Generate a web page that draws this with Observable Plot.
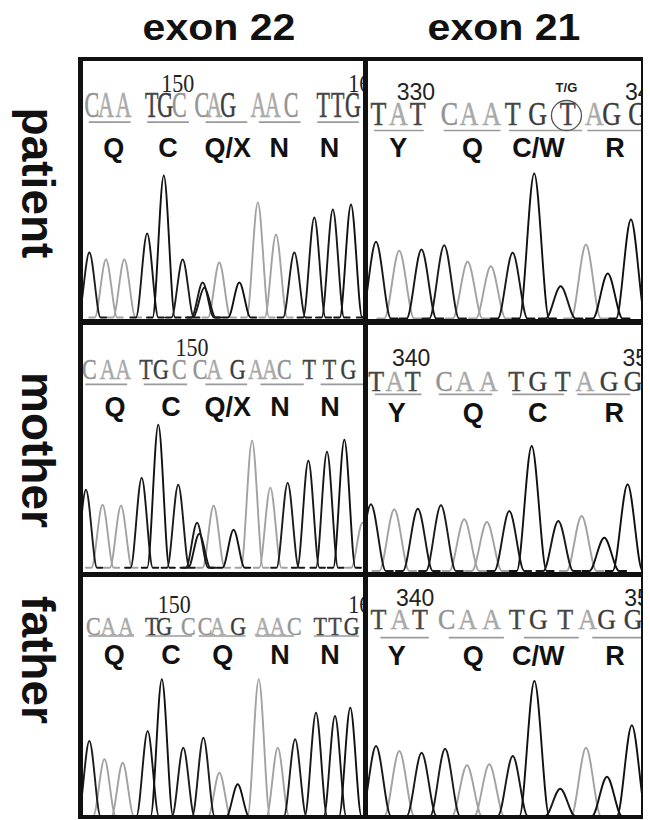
<!DOCTYPE html>
<html><head><meta charset="utf-8">
<script src="https://cdn.jsdelivr.net/npm/d3@7"></script>
<script src="https://cdn.jsdelivr.net/npm/@observablehq/plot@0.6"></script>
<style>
body{margin:0;background:#fff;}
#fig{position:relative;width:650px;height:820px;overflow:hidden;background:#fff;font-family:"Liberation Sans",Arial,sans-serif;}
.title{position:absolute;font-weight:bold;font-size:36px;line-height:1;white-space:nowrap;transform:translateX(-50%) scaleX(1.14);color:#111;}
.row{position:absolute;font-weight:bold;font-size:46px;line-height:1;white-space:nowrap;color:#111;transform:translate(-50%,-50%) rotate(90deg);}
.panel{position:absolute;overflow:hidden;}
.bar{position:absolute;background:#111;}
</style></head><body><div id="fig"></div>
<script>
// ---------- data ----------
const exonTitles = ["exon 22", "exon 21"];
const people = ["patient", "mother", "father"];

// peaks: [position (base number), base channel, intensity]
const patient22Peaks = [[145.00,"C",650],[145.89,"A",580],[146.87,"A",580],[148.09,"T",840],[148.98,"G",1420],[149.99,"C",580],[151.06,"C",350],[151.15,"T",300],[151.95,"A",550],[153.02,"G",350],[154.01,"A",1150],[154.98,"A",830],[155.96,"C",650],[157.03,"T",1000],[158.02,"T",1080],[158.99,"G",1130],[160.2,"C",600]];
const patient22Seq = "CAATGCCAGAACTTG";
const patient22SeqPos = [145.13,145.89,146.82,148.34,149.06,149.81,151.01,151.68,152.43,154.04,154.81,155.79,157.51,158.28,159.09];
const patient22Codons = [[145.0,147.23],[148.12,150.35],[151.24,153.47],[154.09,156.32],[157.21,159.44]];
const patient22Amino = ["Q","C","Q/X","N","N"];
const patient22AminoPos = [146.3,149.2,152.4,155.16,157.84];
const patient22Ticks = [[150,149.73],[160,159.72]];

const patient21Peaks = [[328.04,"T",767],[329.04,"A",677],[330.0,"T",690],[330.98,"C",733],[331.99,"A",567],[332.99,"A",523],[333.93,"T",657],[334.86,"G",1450],[336.0,"T",323],[337.09,"A",740],[338.03,"G",450],[339.03,"G",990]];
const patient21Seq = "TATCAATGTAGG";
const patient21SeqPos = [328.15,329.0,329.84,331.2,332.06,333.03,333.93,335.01,336.30,337.45,338.2,339.32];
const patient21Codons = [[327.97,330.12],[330.98,333.43],[333.79,336.95],[337.17,339.6]];
const patient21Amino = ["Y","Q","C/W","R"];
const patient21AminoPos = [329.0,332.2,335.04,338.34];
const patient21Ticks = [[330,329.76],[340,339.6]];
const patient21Het = [["T/G",336.25]];

const mother22Peaks = [[145.02,"C",780],[145.92,"A",630],[146.92,"A",620],[148.04,"T",900],[148.94,"G",1430],[150.02,"C",830],[151.04,"C",450],[151.16,"T",340],[151.94,"A",620],[153.02,"G",380],[154.02,"A",1270],[155.01,"A",800],[155.95,"C",850],[157.07,"T",1070],[158.08,"T",1160],[159.02,"G",1280],[160.0,"A",450]];
const mother22Seq = "CAATGCCAGAACTTG";
const mother22SeqPos = [145.2,146.2,147.04,148.27,149.08,150.08,151.2,151.97,153.24,154.23,154.99,155.77,157.12,158.21,159.24];
const mother22Codons = [[145.02,147.28],[148.18,150.53],[151.52,153.78],[154.5,156.85],[157.76,160.1]];
const mother22Amino = ["Q","C","Q/X","N","N"];
const mother22AminoPos = [146.59,149.63,152.7,155.53,158.24];
const mother22Ticks = [[150,150.76]];

const mother21Peaks = [[338.01,"T",667],[339.01,"A",617],[340.02,"T",623],[341.01,"C",657],[342.01,"A",517],[342.98,"A",490],[343.94,"T",600],[344.9,"G",1250],[346.04,"T",500],[347.04,"A",550],[348.01,"G",333],[349.01,"G",867]];
const mother21Seq = "TATCAATGTAGG";
const mother21SeqPos = [338.24,339.04,339.8,341.15,342.04,343.04,344.23,345.16,346.23,347.18,348.22,349.25];
const mother21Codons = [[338.2,340.2],[340.94,343.23],[344.09,346.3],[346.87,349.15]];
const mother21Amino = ["Y","Q","C","R"];
const mother21AminoPos = [339.12,342.4,345.16,348.44];
const mother21Ticks = [[340,339.73],[350,349.61]];

const father22Peaks = [[144.98,"C",750],[145.79,"A",567],[146.77,"A",533],[148.11,"T",850],[148.87,"G",1367],[150.02,"C",683],[151.1,"C",783],[151.96,"A",433],[152.94,"G",317],[154.07,"A",1367],[155.09,"A",683],[156.02,"C",767],[157.14,"T",1033],[158.16,"T",1000],[158.98,"G",1083]];
const father22Seq = "CAATGCCAGAACTTG";
const father22SeqPos = [145.2,146.0,146.95,148.33,149.0,150.29,151.19,151.87,152.97,154.28,155.09,155.98,157.36,158.16,159.06];
const father22Codons = [[144.96,147.4],[148.02,150.53],[150.88,153.39],[153.92,155.98],[157.05,159.47]];
const father22Amino = ["Q","C","Q","N","N"];
const father22AminoPos = [146.32,149.36,152.14,155.21,157.89];
const father22Ticks = [[150,149.54],[160,159.75]];

const father21Peaks = [[338.06,"T",700],[339.06,"A",650],[340.02,"T",633],[341.03,"C",673],[341.97,"A",507],[342.93,"A",517],[343.94,"T",600],[344.87,"G",1350],[345.98,"T",273],[347.09,"A",683],[347.99,"G",393],[349.06,"G",907]];
const father21Seq = "TATCAATGTAGG";
const father21SeqPos = [338.16,339.09,339.95,341.1,342.0,343.03,344.11,345.04,346.19,347.16,347.98,349.12];
const father21Codons = [[338.27,340.35],[341.21,343.58],[344.44,346.8],[347.38,349.6]];
const father21Amino = ["Y","Q","C/W","R"];
const father21AminoPos = [338.95,342.24,345.04,348.34];
const father21Ticks = [[340,339.74],[350,349.56]];

// ---------- styles / layout ----------
const traceColor = {A:"#a2a2a2", C:"#1c1c1c", G:"#111111", T:"#181818"};
const letterColor = {A:"#a9a9a9", C:"#939393", G:"#3c3c3c", T:"#464646"};

const colX = [[80.5,365.5],[365.5,642]];
const rowY = [[59,321.5],[321.5,574.5],[574.5,817]];

const panels = [
  {r:0,c:0,dom:[144.58,159.82],base:317,tickY:83.5,seqY:105,lineY:121.7,aaY:147.5,seqSize:22,stretch:1.58,serifTicks:true,w:0.6,
   peaks:patient22Peaks,seq:patient22Seq,seqPos:patient22SeqPos,codons:patient22Codons,amino:patient22Amino,aminoPos:patient22AminoPos,ticks:patient22Ticks},
  {r:0,c:1,dom:[327.63,339.55],base:318,tickY:92.5,seqY:114,lineY:130,aaY:147.5,seqSize:26,stretch:1.28,serifTicks:false,w:0.64,
   peaks:patient21Peaks,seq:patient21Seq,seqPos:patient21SeqPos,codons:patient21Codons,amino:patient21Amino,aminoPos:patient21AminoPos,ticks:patient21Ticks,het:patient21Het,hetY:87,circleY:115},
  {r:1,c:0,dom:[144.78,160.22],base:566.7,tickY:347.5,seqY:368,lineY:383.3,aaY:406,seqSize:22,stretch:1.37,serifTicks:true,w:0.6,
   peaks:mother22Peaks,seq:mother22Seq,seqPos:mother22SeqPos,codons:mother22Codons,amino:mother22Amino,aminoPos:mother22AminoPos,ticks:mother22Ticks},
  {r:1,c:1,dom:[337.82,349.67],base:570,tickY:357.5,seqY:380,lineY:393.3,aaY:412.5,seqSize:26,stretch:1.16,serifTicks:false,w:0.64,
   peaks:mother21Peaks,seq:mother21Seq,seqPos:mother21SeqPos,codons:mother21Codons,amino:mother21Amino,aminoPos:mother21AminoPos,ticks:mother21Ticks},
  {r:2,c:0,dom:[144.56,159.85],base:815,tickY:604,seqY:626.5,lineY:635,aaY:654,seqSize:22,stretch:1.12,serifTicks:true,w:0.6,
   peaks:father22Peaks,seq:father22Seq,seqPos:father22SeqPos,codons:father22Codons,amino:father22Amino,aminoPos:father22AminoPos,ticks:father22Ticks},
  {r:2,c:1,dom:[337.65,349.54],base:815,tickY:597.5,seqY:618,lineY:636.7,aaY:655,seqSize:26,stretch:1.16,serifTicks:false,w:0.64,
   peaks:father21Peaks,seq:father21Seq,seqPos:father21SeqPos,codons:father21Codons,amino:father21Amino,aminoPos:father21AminoPos,ticks:father21Ticks}
];

const fig = document.getElementById("fig");

// vertical stretch of the glyphs of one mark group (about each text's own anchor)
function stretchGroup(g, s) {
  if (!g) return;
  g.querySelectorAll("text").forEach(t => {
    const tr = t.getAttribute("transform");
    if (tr) {
      t.setAttribute("transform", `${tr} scale(1,${s})`);
    } else {
      const xa = t.getAttribute("x"), ya = t.getAttribute("y");
      const num = v => /^[-\d.]+$/.test(v || "");
      const x = num(xa) ? +xa : 0, y = num(ya) ? +ya : 0;
      if (num(xa)) t.removeAttribute("x");
      if (num(ya)) t.removeAttribute("y");
      t.setAttribute("transform", `translate(${x},${y}) scale(1,${s})`);
    }
  });
}

for (const p of panels) {
  const [x0, x1] = colX[p.c], [y0, y1] = rowY[p.r];
  const W = x1 - x0, H = y1 - y0;
  const off = y => y - y0;
  // peak glyph outline: flat foot, apex, flat foot (bell drawn by monotone curve)
  const pts = [];
  const order = p.peaks.map((d, k) => ({d, k})).sort((a, b) => (a.d[1] === "A" ? 0 : 1) - (b.d[1] === "A" ? 0 : 1));
  for (const {d: [pos, b, h], k} of order) {
    const w = p.w;
    for (const [x, y] of [[pos - w - 0.3, 0], [pos - w, 0], [pos, h], [pos + w, 0], [pos + w + 0.3, 0]]) pts.push({k, b, x, y});
  }
  const seqData = Array.from(p.seq, (b, i) => ({b, x: p.seqPos[i]}));
  const aaData = p.amino.map((a, i) => ({a, x: p.aminoPos[i]}));
  const marks = [
    Plot.line(pts, {x: "x", y: "y", z: "k", stroke: d => traceColor[d.b], strokeWidth: 1.9, curve: "monotone-x"}),
    Plot.ruleY(p.codons, {x1: d => d[0], x2: d => d[1], y: () => 0, dy: -(p.base - p.lineY), stroke: "#9a9a9a", strokeWidth: 1.7}),
    Plot.text(seqData, {x: "x", text: "b", frameAnchor: "top", lineAnchor: "middle", dy: off(p.seqY), fill: d => letterColor[d.b],
      stroke: d => letterColor[d.b], strokeWidth: 0.35, fontFamily: "Liberation Serif", fontSize: p.seqSize}),
    Plot.text(aaData, {x: "x", text: "a", frameAnchor: "top", lineAnchor: "middle", dy: off(p.aaY), fill: "#111",
      fontFamily: "Liberation Sans", fontWeight: "bold", fontSize: 27}),
    Plot.text(p.ticks, {x: d => d[1], text: d => String(d[0]), frameAnchor: "top", lineAnchor: "middle", dy: off(p.tickY), fill: "#222",
      fontFamily: p.serifTicks ? "Liberation Serif" : "Liberation Sans", fontSize: p.serifTicks ? 22 : 23})
  ];
  if (p.het) {
    marks.push(Plot.dot(p.het, {x: d => d[1], frameAnchor: "top", dy: off(p.circleY), r: 15, stroke: "#555", strokeWidth: 1.3, fill: "none"}));
    marks.push(Plot.text(p.het, {x: d => d[1], text: d => d[0], frameAnchor: "top", lineAnchor: "middle", dy: off(p.hetY), fill: "#222",
      fontFamily: "Liberation Sans", fontWeight: "bold", fontSize: 13}));
  }
  const svg = Plot.plot({
    width: W, height: H,
    marginTop: 0, marginRight: 0, marginLeft: 0, marginBottom: y1 - p.base,
    x: {domain: p.dom, axis: null},
    y: {domain: [0, (p.base - y0) * 10], axis: null},
    color: {type: "identity"},
    style: {background: "transparent"},
    marks
  });
  const groups = svg.querySelectorAll(":scope > g");
  stretchGroup(groups[2], p.stretch);
  if (p.serifTicks) stretchGroup(groups[4], 1.12);
  const div = document.createElement("div");
  div.className = "panel";
  Object.assign(div.style, {left: x0 + "px", top: y0 + "px", width: W + "px", height: H + "px"});
  div.appendChild(svg);
  fig.appendChild(div);
}

// titles
const titleX = [219, 504];
exonTitles.forEach((t, i) => {
  const d = document.createElement("div");
  d.className = "title"; d.textContent = t;
  d.style.left = titleX[i] + "px"; d.style.top = "9.5px";
  fig.appendChild(d);
});
// row labels
const labelY = [183, 450, 660];
people.forEach((t, i) => {
  const d = document.createElement("div");
  d.className = "row"; d.textContent = t;
  d.style.left = "38px"; d.style.top = labelY[i] + "px";
  fig.appendChild(d);
});
// frame bars
const bars = [
  [78.3, 57, 4.5, 762], [363, 57, 5, 762], [641, 57, 2, 762],
  [78.3, 57, 564.7, 4], [78.3, 319, 564.7, 6], [78.3, 572, 564.7, 5], [78.3, 815, 564.7, 4]
];
for (const [l, t, w, h] of bars) {
  const b = document.createElement("div");
  b.className = "bar";
  Object.assign(b.style, {left: l + "px", top: t + "px", width: w + "px", height: h + "px"});
  fig.appendChild(b);
}
</script></body></html>
